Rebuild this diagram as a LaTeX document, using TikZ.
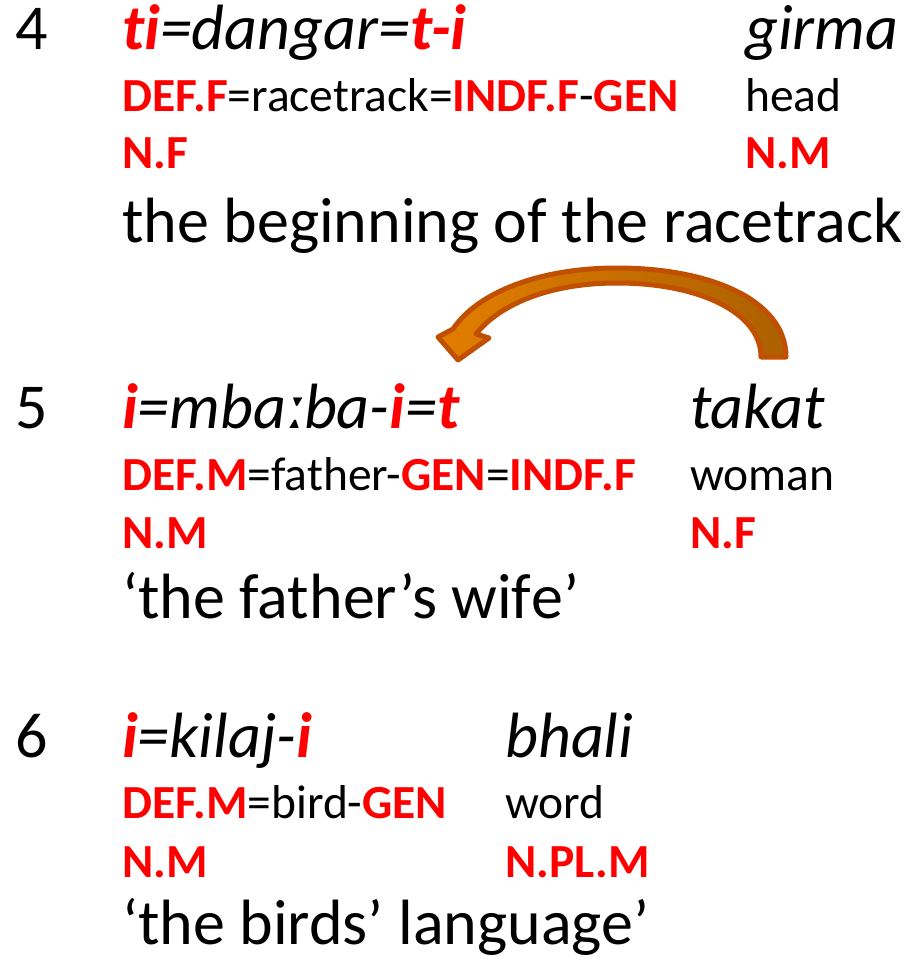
\documentclass[tikz,border=0pt]{standalone}
\usepackage{fontspec}
\setmainfont{Carlito}[Ligatures=NoCommon]
\usepackage{tikz}
\usetikzlibrary{positioning}
\usepackage{xcolor}

\definecolor{gramred}{RGB}{255,0,0}
\definecolor{arrowline}{RGB}{192,80,0}
\definecolor{arrowlight}{RGB}{226,126,0}
\definecolor{arrowdark}{RGB}{172,96,0}

\newcommand{\gm}[1]{\textcolor{gramred}{\bfseries #1}}
\newcommand{\bigsize}{\fontsize{64}{70}\selectfont}
\newcommand{\glsize}{\fontsize{47.5}{52}\selectfont}

\begin{document}
\begin{tikzpicture}[
    x=1pt, y=-1pt,
    line/.style={anchor=base west, inner sep=0pt, font=\bigsize},
    gloss/.style={anchor=base west, inner sep=0pt, font=\glsize}
]
\useasboundingbox (0,0) rectangle (908,960);

% example 4
\node (num4) [line] at (15,50) {4};
\node (form4a) [line] at (122,50) {\itshape\gm{t\kern0pt i}=dangar=\gm{t-i}};
\node (form4b) [line] at (745,50) {\itshape girma};
\node (gloss4a) [gloss] at (122,112) {\gm{DEF.F}=racetrack=\gm{INDF.F}-\gm{GEN}};
\node (gloss4b) [gloss] at (745,112) {head};
\node (cls4a) [gloss] at (122,168) {\gm{N.F}};
\node (cls4b) [gloss] at (745,168) {\gm{N.M}};
\node (trans4) [line] at (122,242) {the beginning of the racetrack};

% example 5
\node (num5) [line] at (15,428) {5};
\node (form5a) [line] at (122,428) {\itshape\gm{i}=mbaːba-\gm{i}=\gm{t}};
\node (form5b) [line] at (690,428) {\itshape takat};
\node (gloss5a) [gloss] at (122,490) {\gm{DEF.M}=father-\gm{GEN}=\gm{INDF.F}};
\node (gloss5b) [gloss] at (690,490) {woman};
\node (cls5a) [gloss] at (122,548) {\gm{N.M}};
\node (cls5b) [gloss] at (690,548) {\gm{N.F}};
\node (trans5) [line] at (122,618) {‘the father’s wif\kern0pt e’};

% example 6
\node (num6) [line] at (15,757) {6};
\node (form6a) [line] at (122,757) {\itshape\gm{i}=kilaj-\gm{i}};
\node (form6b) [line] at (505,757) {\itshape bhali};
\node (gloss6a) [gloss] at (122,818) {\gm{DEF.M}=bird-\gm{GEN}};
\node (gloss6b) [gloss] at (505,818) {word};
\node (cls6a) [gloss] at (122,877) {\gm{N.M}};
\node (cls6b) [gloss] at (505,877) {\gm{N.PL.M}};
\node (trans6) [line] at (122,944) {‘the birds’ language’};

% curved arrow from takat back to the first word
\draw [draw=arrowline, line width=5pt, line join=round, left color=arrowlight, right color=arrowdark]
    (786,357) .. controls (786,300) and (710,268) .. (617,268)
    .. controls (540,268) and (478,292) .. (453,329)
    -- (438,337) -- (458,360) -- (489,338) -- (476,334)
    .. controls (500,304) and (550,283) .. (617,283)
    .. controls (698,283) and (761,312) .. (761,357) -- cycle;
\end{tikzpicture}
\end{document}
